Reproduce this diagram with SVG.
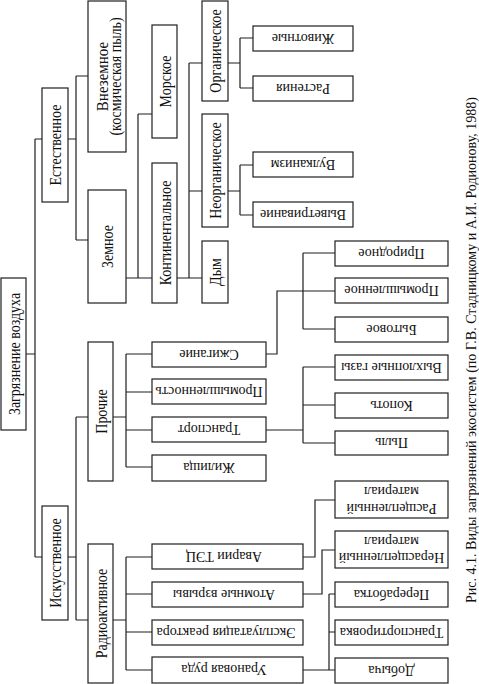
<svg xmlns="http://www.w3.org/2000/svg" width="479" height="684" viewBox="0 0 479 684">
<style>
.box{fill:#fff;stroke:#1e1e1e;stroke-width:1.2}
.ln{fill:none;stroke:#1e1e1e;stroke-width:1.2}
text{font-family:"Liberation Serif","Times New Roman",serif;font-size:14px;fill:#111;text-anchor:middle}
</style>
<rect width="479" height="684" fill="#fff"/>
<g id="connectors" class="ln">
<path d="M26,354H35M35,139V557M35,139H42M35,557H42"/>
<path d="M68,139H76M76,76V240M76,76H88M76,240H88"/>
<path d="M126,278H138M138,114V278M138,114H152M138,278H152"/>
<path d="M177,278H189M189,63V278M189,63H202M189,191H202M189,278H202"/>
<path d="M228,63H240M240,38V88M240,38H253M240,88H253"/>
<path d="M228,191H240M240,165V215M240,165H253M240,215H253"/>
<path d="M68,557H76M76,417V620M76,417H88M76,620H88"/>
<path d="M113,417H126M126,354V467M126,354H152M126,392H152M126,430H152M126,467H152"/>
<path d="M266,354H277V291H303M303,253V329M303,253H335M303,291H335M303,329H335"/>
<path d="M266,430H303M303,367V443M303,367H335M303,405H335M303,443H335"/>
<path d="M113,620H126M126,557V670M126,557H152M126,594H152M126,632H152M126,670H152"/>
<path d="M303,557H315V500H335"/>
<path d="M303,594H322V550H335"/>
<path d="M303,670H329M329,594V670M329,594H335M329,632H335M329,670H335"/>
</g>
<g id="n-root"><rect class="box" x="1" y="278" width="25" height="152"/><text transform="translate(13.5,354) rotate(-90) scale(1,1.15)" y="5.6">Загрязнение воздуха</text></g>
<g id="n-estestv"><rect class="box" x="42" y="88" width="26" height="114"/><text transform="translate(55,145) rotate(-90) scale(1,1.15)" y="5.6">Естественное</text></g>
<g id="n-iskusstv"><rect class="box" x="42" y="506" width="26" height="114"/><text transform="translate(55,563) rotate(-90) scale(1,1.15)" y="5.6">Искусственное</text></g>
<g id="n-vnezemnoe"><rect class="box" x="88" y="1" width="38" height="151"/><text transform="translate(107,76.5) rotate(-90) scale(1,1.15)"><tspan x="0" y="0.9" style="font-size:15px">Внеземное</tspan><tspan x="0" y="12.2">(космическая пыль)</tspan></text></g>
<g id="n-zemnoe"><rect class="box" x="88" y="190" width="38" height="113"/><text transform="translate(107,246.5) rotate(-90) scale(1,1.15)" y="5.6">Земное</text></g>
<g id="n-prochie"><rect class="box" x="88" y="342" width="25" height="139"/><text transform="translate(100.5,411.5) rotate(-90) scale(1,1.15)" y="5.6">Прочие</text></g>
<g id="n-radio"><rect class="box" x="88" y="544" width="25" height="139"/><text transform="translate(100.5,613.5) rotate(-90) scale(1,1.15)" y="5.6">Радиоактивное</text></g>
<g id="n-morskoe"><rect class="box" x="152" y="25" width="25" height="113"/><text transform="translate(164.5,81.5) rotate(-90) scale(1,1.15)" y="5.6">Морское</text></g>
<g id="n-kontinent"><rect class="box" x="152" y="163" width="25" height="140"/><text transform="translate(164.5,233) rotate(-90) scale(1,1.15)" y="5.6">Континентальное</text></g>
<g id="n-organ"><rect class="box" x="202" y="1" width="26" height="100"/><text transform="translate(215,51) rotate(-90) scale(1,1.15)" y="5.6">Органическое</text></g>
<g id="n-neorgan"><rect class="box" x="202" y="114" width="26" height="113"/><text transform="translate(215,170.5) rotate(-90) scale(1,1.15)" y="5.6">Неорганическое</text></g>
<g id="n-dym"><rect class="box" x="202" y="241" width="26" height="62"/><text transform="translate(215,272) rotate(-90) scale(1,1.15)" y="5.6">Дым</text></g>
<g id="n-zhivotnye"><rect class="box" x="253" y="26" width="100" height="25"/><text transform="translate(303,38.5) rotate(180)" y="4.7">Животные</text></g>
<g id="n-rasteniya"><rect class="box" x="253" y="76" width="100" height="25"/><text transform="translate(303,88.5) rotate(180)" y="4.7">Растения</text></g>
<g id="n-vulkanizm"><rect class="box" x="253" y="152" width="100" height="25"/><text transform="translate(303,164.5) rotate(180)" y="4.7">Вулканизм</text></g>
<g id="n-vyvetr"><rect class="box" x="253" y="202" width="100" height="25"/><text transform="translate(303,214.5) rotate(180)" y="4.7">Выветривание</text></g>
<g id="n-szhiganie"><rect class="box" x="152" y="342" width="114" height="25"/><text transform="translate(209,354.5) rotate(180)" y="4.7">Сжигание</text></g>
<g id="n-promyshl"><rect class="box" x="152" y="379" width="114" height="25"/><text transform="translate(209,391.5) rotate(180)" y="4.7">Промышленность</text></g>
<g id="n-transport"><rect class="box" x="152" y="417" width="114" height="25"/><text transform="translate(209,429.5) rotate(180)" y="4.7">Транспорт</text></g>
<g id="n-zhilishcha"><rect class="box" x="152" y="455" width="114" height="26"/><text transform="translate(209,468) rotate(180)" y="4.7">Жилища</text></g>
<g id="n-prirodnoe"><rect class="box" x="335" y="241" width="113" height="25"/><text transform="translate(391.5,253.5) rotate(180)" y="4.7">Природное</text></g>
<g id="n-promyshlennoe"><rect class="box" x="335" y="278" width="113" height="25"/><text transform="translate(391.5,290.5) rotate(180)" y="4.7">Промышленное</text></g>
<g id="n-bytovoe"><rect class="box" x="335" y="317" width="113" height="25"/><text transform="translate(391.5,329.5) rotate(180)" y="4.7">Бытовое</text></g>
<g id="n-vyhlop"><rect class="box" x="335" y="355" width="113" height="25"/><text transform="translate(391.5,367.5) rotate(180)" y="4.7">Выхлопные газы</text></g>
<g id="n-kopot"><rect class="box" x="335" y="393" width="113" height="25"/><text transform="translate(391.5,405.5) rotate(180)" y="4.7">Копоть</text></g>
<g id="n-pyl"><rect class="box" x="335" y="431" width="113" height="24"/><text transform="translate(391.5,443) rotate(180)" y="4.7">Пыль</text></g>
<g id="n-rasshch"><rect class="box" x="335" y="481" width="113" height="37"/><text transform="translate(391.5,499.5) rotate(180)"><tspan x="0" y="-4.5">Расщепленный</tspan><tspan x="0" y="12.5">материал</tspan></text></g>
<g id="n-nerasshch"><rect class="box" x="335" y="531" width="113" height="37"/><text transform="translate(391.5,549.5) rotate(180)"><tspan x="0" y="-3.5">Нерасщепленный</tspan><tspan x="0" y="12.5">материал</tspan></text></g>
<g id="n-pererabotka"><rect class="box" x="335" y="582" width="113" height="25"/><text transform="translate(391.5,594.5) rotate(180)" y="4.7">Переработка</text></g>
<g id="n-transportirovka"><rect class="box" x="335" y="620" width="113" height="25"/><text transform="translate(391.5,632.5) rotate(180)" y="4.7">Транспортировка</text></g>
<g id="n-dobycha"><rect class="box" x="335" y="658" width="113" height="25"/><text transform="translate(391.5,670.5) rotate(180)" y="4.7">Добыча</text></g>
<g id="n-avarii"><rect class="box" x="152" y="544" width="151" height="25"/><text transform="translate(224,556.5) rotate(180)" y="4.7">Аварии ТЭЦ</text></g>
<g id="n-atomnye"><rect class="box" x="152" y="582" width="151" height="25"/><text transform="translate(224,594.5) rotate(180)" y="4.7">Атомные взрывы</text></g>
<g id="n-ekspl"><rect class="box" x="152" y="620" width="151" height="25"/><text transform="translate(226,632.5) rotate(180)" y="4.7">Эксплуатация реактора</text></g>
<g id="n-uran"><rect class="box" x="152" y="657" width="151" height="26"/><text transform="translate(224,670) rotate(180)" y="4.7">Урановая руда</text></g>
<g id="caption"><text transform="translate(470,350) rotate(-90) scale(1,1.12)" y="5.4" style="font-size:13.5px" textLength="506" lengthAdjust="spacingAndGlyphs">Рис. 4.1. Виды загрязнений экосистем (по Г.В. Стадницкому и А.И. Родионову, 1988)</text></g>
</svg>
